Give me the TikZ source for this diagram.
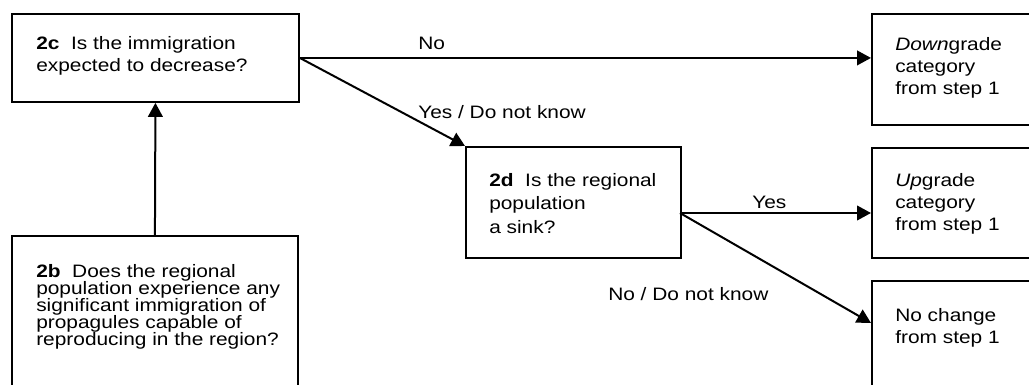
\documentclass[tikz,border=0pt]{standalone}
\usepackage{fontspec}
\setmainfont[FakeStretch=1.16]{Liberation Sans}
\usetikzlibrary{arrows.meta}
\lineskiplimit=-20pt

\tikzset{
  box/.style={draw, line width=1.4pt, anchor=north west, inner sep=0pt},
  txt/.style={anchor=base west, inner sep=0pt, align=left,
    font=\fontsize{13.5pt}{16.5pt}\selectfont},
  flow/.style={line width=1.5pt, -{Triangle[length=10.5pt,width=11pt]}},
}

\begin{document}
\begin{tikzpicture}[x=0.75pt,y=0.75pt,yscale=-1,xscale=1]
\useasboundingbox (0,0) rectangle (1029,385);
\clip (0,0) rectangle (1029,385);

% Boxes
\node[box, minimum width=215.25pt, minimum height=66pt] (b2c) at (11,13) {};
\node[box, minimum width=214.5pt, minimum height=127.5pt] (b2b) at (11,235) {};
\node[box, minimum width=161.25pt, minimum height=83.25pt] (b2d) at (465,146) {};
\node[box, minimum width=135pt, minimum height=83.25pt] (bdown) at (871,13) {};
\node[box, minimum width=135pt, minimum height=82.5pt] (bup) at (871,147) {};
\node[box, minimum width=135pt, minimum height=97.5pt] (bnc) at (871,280) {};

% Text in boxes (anchored at the baseline of the last line)
\node[txt] (t2c) at (36,72) {\textbf{2c}\ \ Is the immigration\\expected to decrease?};
\node[txt, font=\fontsize{13.5pt}{12.75pt}\selectfont] (t2b) at (36,345)
  {\textbf{2b}\ \ Does the regional\\population experience any\\significant immigration of\\propagules capable of\\reproducing in the region?};
\node[txt, font=\fontsize{13.5pt}{17.5pt}\selectfont] (t2d) at (489,233)
  {\textbf{2d}\ \ Is the regional\\population\\a sink?};
\node[txt] (tdown) at (895,95) {\textit{Down}grade\\category\\from step 1};
\node[txt] (tup) at (895,230) {\textit{Up}grade\\category\\from step 1};
\node[txt] (tnc) at (895,343) {No change\\from step 1};

% Connectors
\coordinate (fork) at (680,213);
\coordinate (ncin) at (871,323);
\draw[flow] (b2b.north) -- (b2c.south);
\draw[flow] (b2c.east) -- (b2c.east -| bdown.west);
\draw[flow] (b2c.east) -- (b2d.north west);
\draw[flow] (fork) -- (fork -| bup.west);
\draw[flow] (fork) -- (ncin);

% Labels
\node[txt] (lno) at (418,50) {No};
\node[txt] (lyd) at (418,118) {Yes / Do not know};
\node[txt] (lyes) at (752,209) {Yes};
\node[txt] (lnd) at (608,300) {No / Do not know};

\end{tikzpicture}
\end{document}
